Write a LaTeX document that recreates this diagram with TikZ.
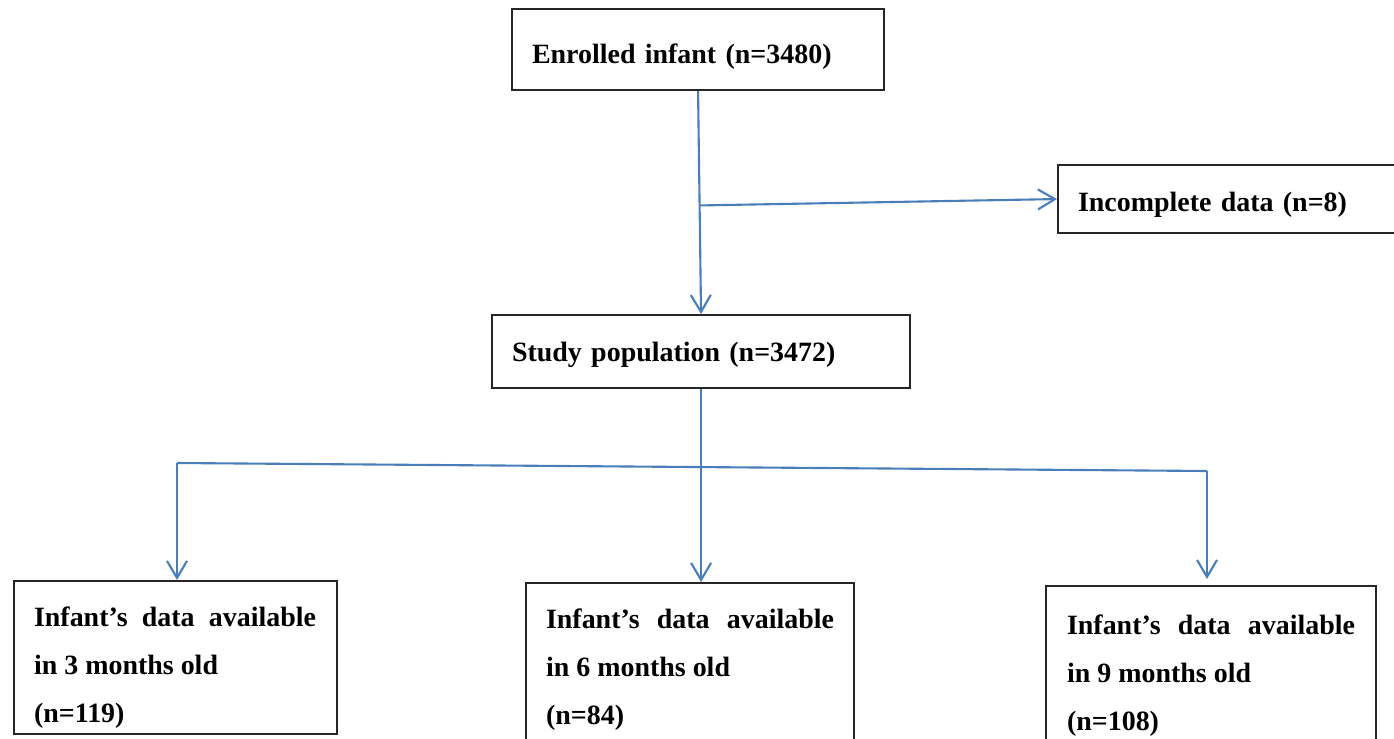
\documentclass[tikz,border=0pt]{standalone}
\usepackage{fontspec}
\setmainfont{Liberation Serif}
\usepackage{xcolor}
\usetikzlibrary{arrows.meta}
\usetikzlibrary{calc}

\definecolor{flowblue}{RGB}{74,126,187}
\newcommand{\boxfont}{\fontsize{7.95pt}{13.7pt}\selectfont\bfseries}

\begin{document}
\begin{tikzpicture}[x=1cm,y=-1cm,
  box/.style={draw=black!85, line width=0.6pt, inner ysep=0pt, inner xsep=0.2cm,
    anchor=north west, font=\boxfont},
  flow/.style={draw=flowblue, line width=0.6pt},
  arr/.style={flow, -{Straight Barb[length=0.17cm,width=0.2cm]}}]
\clip (0,0) rectangle (13.94,7.39);

\node[box, text width=3.32cm, align=left, text height=0.54cm, text depth=0.27cm] (enr) at (5.11,0.08) {Enrolled infant (n=3480)};
\node[box, text width=3.05cm, align=left, text height=0.46cm, text depth=0.22cm] (inc) at (10.57,1.64) {Incomplete data (n=8)};
\node[box, text width=3.78cm, align=left, text height=0.46cm, text depth=0.27cm] (study) at (4.91,3.14) {Study population (n=3472)};

\node[box, inner xsep=0.205cm, text height=0.45cm, text depth=1.08cm] (m3) at (0.125,5.80)
  {\parbox[t]{2.82cm}{\makebox[\linewidth][s]{Infant’s data available}\\in 3 months old\\(n=119)}};
\node[box, text height=0.45cm, text depth=1.2cm] (m6) at (5.25,5.82)
  {\parbox[t]{2.88cm}{\makebox[\linewidth][s]{Infant’s data available}\\in 6 months old\\(n=84)}};
\node[box, inner xsep=0.21cm, text height=0.48cm, text depth=1.2cm] (m9) at (10.45,5.85)
  {\parbox[t]{2.88cm}{\makebox[\linewidth][s]{Infant’s data available}\\in 9 months old\\(n=108)}};

% first split
\draw[arr] (enr.south) -- (study.north);
\coordinate (j1) at ($(enr.south)!0.513!(study.north)$);
\draw[arr] (j1) -- (inc.west);

% second split
\draw[arr] (study.south) -- (study.south |- m6.north);
\coordinate (bl) at (1.77,4.63);
\coordinate (br) at (12.07,4.71);
\coordinate (bre) at (12.07,5.79);
\draw[flow] (bl) -- (br);
\draw[arr] (bl) -- (bl |- m3.north);
\draw[arr] (br) -- (bre);
\end{tikzpicture}
\end{document}
